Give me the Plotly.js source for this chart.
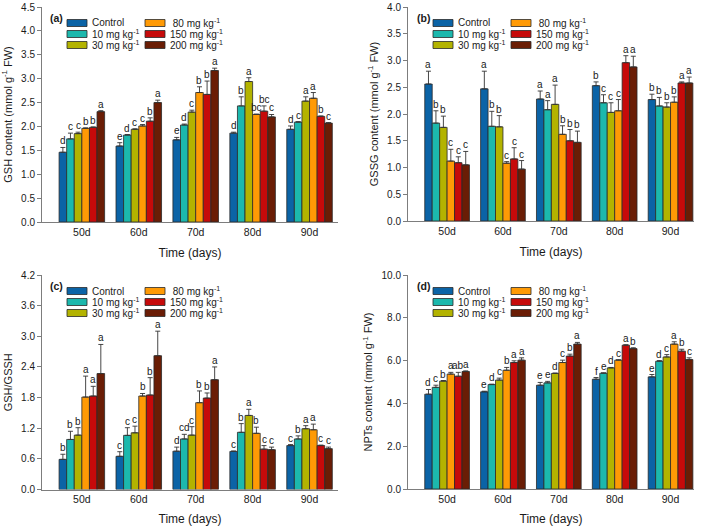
<!DOCTYPE html>
<html><head><meta charset="utf-8">
<script src="https://cdn.plot.ly/plotly-3.0.1.min.js"></script>
<style>html,body{margin:0;padding:0;background:#fff}#chart{width:708px;height:526px}</style>
</head><body><div id="chart"></div>
<script>
// ---------- DATA ----------
const categories = ['50d', '60d', '70d', '80d', '90d'];
const seriesNames = ['Control', '10 mg kg<sup>-1</sup>', '30 mg kg<sup>-1</sup>', ' 80 mg kg<sup>-1</sup>', '150 mg kg<sup>-1</sup>', '200 mg kg<sup>-1</sup>'];
const seriesColors = ['#0b63a6', '#1cb8ad', '#b3b300', '#ff9a05', '#c60a0a', '#6a1d05'];

// (a) GSH content
const gshValues = [
  [1.46, 1.59, 1.72, 1.86, 1.94],
  [1.74, 1.82, 2.03, 2.43, 2.09],
  [1.85, 1.94, 2.30, 2.94, 2.53],
  [1.96, 2.01, 2.71, 2.25, 2.59],
  [1.98, 2.11, 2.67, 2.32, 2.21],
  [2.31, 2.50, 3.17, 2.20, 2.07]
];
const gshErrors = [
  [0.10, 0.07, 0.05, 0.02, 0.07],
  [0.12, 0.01, 0.02, 0.19, 0.01],
  [0.03, 0.01, 0.04, 0.08, 0.09],
  [0.01, 0.03, 0.12, 0.01, 0.12],
  [0.01, 0.07, 0.28, 0.11, 0.01],
  [0.02, 0.05, 0.05, 0.05, 0.01]
];
const gshLetters = [
  ['d', 'e', 'e', 'd', 'd'],
  ['c', 'd', 'd', 'b', 'c'],
  ['c', 'c', 'c', 'a', 'a'],
  ['b', 'c', 'b', 'bc', 'a'],
  ['b', 'b', 'b', 'bc', 'b'],
  ['a', 'a', 'a', 'c', 'c']
];

// (b) GSSG content
const gssgValues = [
  [2.56, 2.47, 2.28, 2.53, 2.27],
  [1.83, 1.77, 2.08, 2.21, 2.15],
  [1.75, 1.76, 2.18, 2.03, 2.13],
  [1.12, 1.08, 1.62, 2.06, 2.22],
  [1.09, 1.16, 1.50, 2.96, 2.58],
  [1.05, 0.97, 1.47, 2.88, 2.58]
];
const gssgErrors = [
  [0.24, 0.33, 0.15, 0.07, 0.10],
  [0.23, 0.28, 0.17, 0.15, 0.16],
  [0.21, 0.21, 0.36, 0.18, 0.08],
  [0.22, 0.03, 0.16, 0.21, 0.10],
  [0.11, 0.21, 0.21, 0.13, 0.02],
  [0.25, 0.16, 0.21, 0.20, 0.11]
];
const gssgLetters = [
  ['a', 'a', 'a', 'b', 'b'],
  ['b', 'b', 'a', 'c', 'b'],
  ['b', 'b', 'a', 'c', 'b'],
  ['c', 'c', 'b', 'c', 'b'],
  ['c', 'c', 'b', 'a', 'a'],
  ['c', 'c', 'b', 'a', 'a']
];

// (c) GSH/GSSH
const ratioValues = [
  [0.59, 0.65, 0.75, 0.745, 0.86],
  [0.98, 1.06, 0.99, 1.12, 0.99],
  [1.065, 1.11, 1.065, 1.45, 1.19],
  [1.81, 1.83, 1.70, 1.10, 1.17],
  [1.83, 1.85, 1.79, 0.79, 0.86],
  [2.27, 2.62, 2.15, 0.78, 0.80]
];
const ratioErrors = [
  [0.10, 0.09, 0.08, 0.01, 0.02],
  [0.16, 0.15, 0.09, 0.17, 0.06],
  [0.145, 0.13, 0.165, 0.12, 0.06],
  [0.41, 0.05, 0.23, 0.12, 0.11],
  [0.19, 0.34, 0.10, 0.07, 0.01],
  [0.57, 0.48, 0.25, 0.05, 0.03]
];
const ratioLetters = [
  ['b', 'c', 'd', 'c', 'c'],
  ['b', 'c', 'cd', 'b', 'b'],
  ['b', 'c', 'c', 'a', 'a'],
  ['a', 'b', 'b', 'b', 'a'],
  ['a', 'b', 'b', 'c', 'c'],
  ['a', 'a', 'a', 'c', 'c']
];

// (d) NPTs content
const nptValues = [
  [4.43, 4.54, 4.85, 5.13, 5.24],
  [4.75, 4.88, 4.96, 5.41, 5.97],
  [5.04, 5.09, 5.40, 5.66, 6.17],
  [5.37, 5.55, 5.91, 6.02, 6.77],
  [5.27, 5.91, 6.21, 6.72, 6.44],
  [5.49, 6.02, 6.77, 6.56, 6.05]
];
const nptErrors = [
  [0.22, 0.03, 0.13, 0.08, 0.11],
  [0.10, 0.02, 0.07, 0.02, 0.03],
  [0.03, 0.09, 0.02, 0.02, 0.11],
  [0.08, 0.13, 0.11, 0.02, 0.11],
  [0.18, 0.08, 0.09, 0.02, 0.09],
  [0.03, 0.11, 0.08, 0.04, 0.08]
];
const nptLetters = [
  ['d', 'e', 'e', 'f', 'e'],
  ['c', 'd', 'e', 'e', 'd'],
  ['b', 'c', 'd', 'd', 'c'],
  ['a', 'b', 'c', 'c', 'a'],
  ['ab', 'a', 'b', 'a', 'b'],
  ['a', 'a', 'a', 'b', 'c']
];

const yTitles = ['GSH content (mmol g<sup>-1</sup> FW)', 'GSSG content (mmol g<sup>-1</sup> FW)', 'GSH/GSSH', 'NPTs content (mmol g<sup>-1</sup> FW)'];
const xTitle = 'Time (days)';
const panelLabels = ['(a)', '(b)', '(c)', '(d)'];

// ---------- LAYOUT / BUILD ----------
const W = 708, H = 526;
const FONT = 'Liberation Sans, Arial, sans-serif';
const panels = [
  {vals: gshValues, errs: gshErrors, lets: gshLetters, yr: [0, 4.5], dt: 0.5, xd: [42, 338], yd: [7, 222], xr: [-0.7, 4.5]},
  {vals: gssgValues, errs: gssgErrors, lets: gssgLetters, yr: [0, 4.0], dt: 0.5, xd: [408, 694], yd: [7, 221], xr: [-0.7, 4.42]},
  {vals: ratioValues, errs: ratioErrors, lets: ratioLetters, yr: [0, 4.2], dt: 0.6, xd: [42, 338], yd: [275, 489.5], xr: [-0.7, 4.5]},
  {vals: nptValues, errs: nptErrors, lets: nptLetters, yr: [0, 10], dt: 2, xd: [408, 694], yd: [275, 489], xr: [-0.7, 4.42]}
];

const traces = [];
const annotations = [];
const shapes = [];
const layout = {
  width: W, height: H,
  margin: {l: 0, r: 0, t: 0, b: 0},
  paper_bgcolor: '#fff', plot_bgcolor: '#fff',
  font: {family: FONT, color: '#1a1a1a', size: 10},
  barmode: 'group', bargap: 0.2, bargroupgap: 0,
  showlegend: false,
  annotations: annotations, shapes: shapes
};

const nS = seriesNames.length;
const groupW = 0.8;
panels.forEach((p, k) => {
  const sfx = k === 0 ? '' : String(k + 1);
  const xa = 'x' + sfx, ya = 'y' + sfx;
  p.vals.forEach((v, i) => {
    traces.push({
      type: 'bar', x: categories, y: v, name: seriesNames[i],
      xaxis: xa, yaxis: ya,
      marker: {color: seriesColors[i], line: {color: '#2a2a2a', width: 0.8}},
      error_y: {type: 'data', symmetric: false, array: p.errs[i], arrayminus: p.errs[i].map(() => 0),
        color: '#333', thickness: 0.9, width: 2.5},
      hoverinfo: 'skip'
    });
    v.forEach((val, j) => {
      annotations.push({
        xref: xa, yref: ya,
        x: j - groupW / 2 + (i + 0.5) * groupW / nS,
        y: val + p.errs[i][j],
        text: p.lets[i][j], showarrow: false, yanchor: 'bottom', xanchor: 'center',
        font: {size: 10, family: FONT, color: '#1a1a1a'}, borderpad: 0, yshift: 0
      });
    });
  });
  const ticks = [];
  for (let t = p.yr[0]; t <= p.yr[1] + 1e-9; t += p.dt) ticks.push(+t.toFixed(2));
  layout['xaxis' + sfx] = {
    domain: [p.xd[0] / W, p.xd[1] / W], anchor: ya, range: p.xr,
    showline: true, linecolor: '#7d7d7d', linewidth: 1, ticks: '', showgrid: false, zeroline: false,
    tickfont: {size: 10.5, family: FONT, color: '#1a1a1a'},
    title: {text: xTitle, font: {size: 12, family: FONT, color: '#1a1a1a'}, standoff: 12},
    fixedrange: true
  };
  layout['yaxis' + sfx] = {
    domain: [1 - p.yd[1] / H, 1 - p.yd[0] / H], anchor: xa, range: p.yr,
    tickvals: ticks, tickformat: '.1f',
    showline: true, linecolor: '#7d7d7d', linewidth: 1, ticks: 'outside', ticklen: 4, tickcolor: '#7d7d7d',
    showgrid: false, zeroline: false,
    tickfont: {size: 10, family: FONT, color: '#1a1a1a'},
    title: {text: yTitles[k], font: {size: 11, family: FONT, color: '#1a1a1a'}, standoff: 6},
    fixedrange: true
  };
  // panel label
  const L = p.xd[0], T = p.yd[0];
  annotations.push({xref: 'paper', yref: 'paper', x: (L + 15) / W, y: 1 - (T + 11) / H,
    text: '<b>' + panelLabels[k] + '</b>', showarrow: false, xanchor: 'center', yanchor: 'middle',
    font: {size: 10.5, family: FONT, color: '#1a1a1a'}});
  // custom legend (two columns, three rows)
  seriesNames.forEach((nm, i) => {
    const col = Math.floor(i / 3), row = i % 3;
    const sx0 = L + (col === 0 ? 25 : 103), sx1 = sx0 + 20;
    const cy = T + 16 + row * 11;
    shapes.push({type: 'rect', xref: 'paper', yref: 'paper',
      x0: sx0 / W, x1: sx1 / W, y0: 1 - (cy + 3.5) / H, y1: 1 - (cy - 3.5) / H,
      fillcolor: seriesColors[i], line: {color: '#2a2a2a', width: 0.8}});
    annotations.push({xref: 'paper', yref: 'paper', x: (sx1 + 4) / W, y: 1 - cy / H,
      text: nm, showarrow: false, xanchor: 'left', yanchor: 'middle', borderpad: 0,
      font: {size: 10, family: FONT, color: '#1a1a1a'}});
  });
});

Plotly.newPlot('chart', traces, layout, {displayModeBar: false, staticPlot: true});
</script>
</body></html>
